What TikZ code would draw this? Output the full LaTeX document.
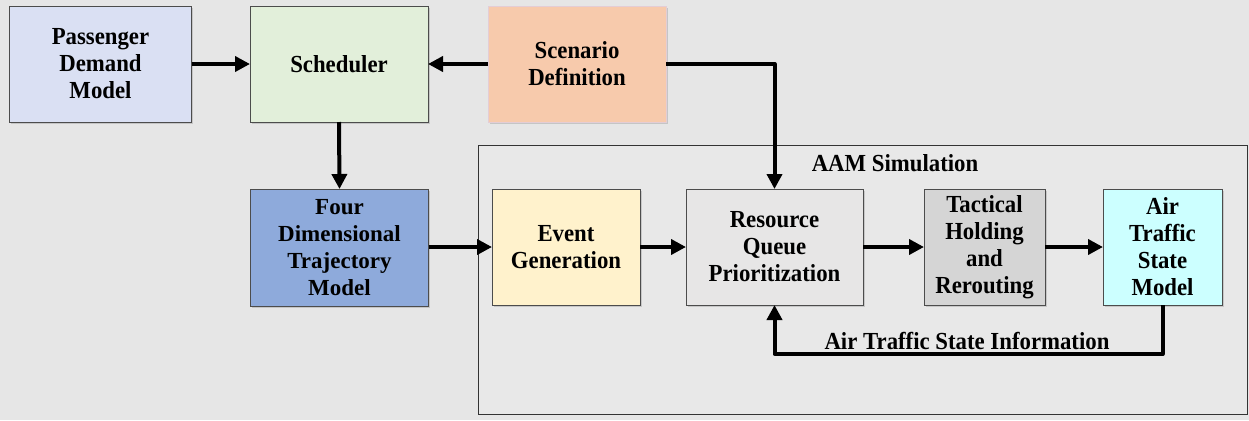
\documentclass[tikz,border=0pt]{standalone}
\usepackage{fontspec}
\setmainfont{Liberation Serif}
\newfontfamily\narrowserif[FakeStretch=0.93]{Liberation Serif}
\usetikzlibrary{arrows.meta,shadows,calc}

\definecolor{bggray}{HTML}{E6E6E6}
\definecolor{simgray}{HTML}{E8E8E8}
\definecolor{pdmblue}{HTML}{DAE0F3}
\definecolor{schgreen}{HTML}{E2EFDA}
\definecolor{scnpeach}{HTML}{F7CAAC}
\definecolor{fdtblue}{HTML}{8EAADB}
\definecolor{evgyellow}{HTML}{FFF2CC}
\definecolor{rqpgray}{HTML}{E7E6E6}
\definecolor{thrgray}{HTML}{D5D5D5}
\definecolor{atscyan}{HTML}{CCFFFF}

\tikzset{
  blk/.style={draw=black!70, line width=0.8bp, align=center,
    font=\narrowserif\bfseries\fontsize{24.5bp}{27bp}\selectfont,
    inner sep=0pt, outer sep=0pt,
    drop shadow={shadow xshift=1.5bp, shadow yshift=-2bp, opacity=0.25, fill=black!60}},
  flow/.style={line width=4bp, -{Triangle[length=15bp,width=15bp]}},
  lbl/.style={font=\narrowserif\bfseries\fontsize{24.5bp}{27bp}\selectfont, inner sep=0pt}
}

\begin{document}
\begin{tikzpicture}[x=1bp,y=-1bp]
  % canvas
  \fill[bggray] (0,0) rectangle (1249,420);
  \useasboundingbox (0,0) rectangle (1249,420);

  % simulation container
  \draw[fill=simgray, draw=black!80, line width=0.9bp] (478,145) rectangle (1247,414);
  \node[lbl] (simlbl) at (895,163) {AAM Simulation};

  % upper row
  \node[blk, fill=pdmblue, minimum width=182bp, minimum height=116bp] (pdm) at (100.5,64) {Passenger\\Demand\\Model};
  \node[blk, fill=schgreen, minimum width=178bp, minimum height=116bp] (sch) at (339,64) {Scheduler};
  \node[blk, fill=scnpeach, draw=scnpeach!85!blue!60, minimum width=178bp, minimum height=116bp] (scn) at (577,64) {Scenario\\Definition};

  % trajectory model
  \node[blk, fill=fdtblue, minimum width=178bp, minimum height=117bp,
        font=\bfseries\fontsize{23bp}{27bp}\selectfont] (fdt) at (339.5,247.5) {Four\\Dimensional\\Trajectory\\Model};

  % simulation blocks
  \node[blk, fill=evgyellow, minimum width=148bp, minimum height=116bp] (evg) at (566,247) {Event\\Generation};
  \node[blk, fill=rqpgray, minimum width=177bp, minimum height=116bp] (rqp) at (774.5,247) {Resource\\Queue\\Prioritization};
  \node[blk, fill=thrgray, minimum width=121bp, minimum height=116bp] (thr) at (984.5,247) {Tactical\\Holding\\and\\Rerouting};
  \node[blk, fill=atscyan, minimum width=119bp, minimum height=116bp] (ats) at (1162.5,247) {Air\\Traffic\\State\\Model};

  % connectors
  \draw[flow] (pdm.east) -- (sch.west);
  \draw[flow] (scn.west) -- (sch.west -| sch.east);
  \draw[flow] (sch.south) -- (fdt.north);
  \draw[flow, line join=round] (scn.east) -| (rqp.north);
  \draw[flow] (fdt.east |- evg.west) -- (evg.west);
  \draw[flow] (evg.east) -- (rqp.west);
  \draw[flow] (rqp.east) -- (thr.west);
  \draw[flow] (thr.east) -- (ats.west);

  \coordinate (loop) at ($(ats.south)+(0,49)$);
  \draw[flow, line join=round] (ats.south) -- (loop) -| (rqp.south);
  \node[lbl] (info) at (967,341) {Air Traffic State Information};
\end{tikzpicture}
\end{document}
